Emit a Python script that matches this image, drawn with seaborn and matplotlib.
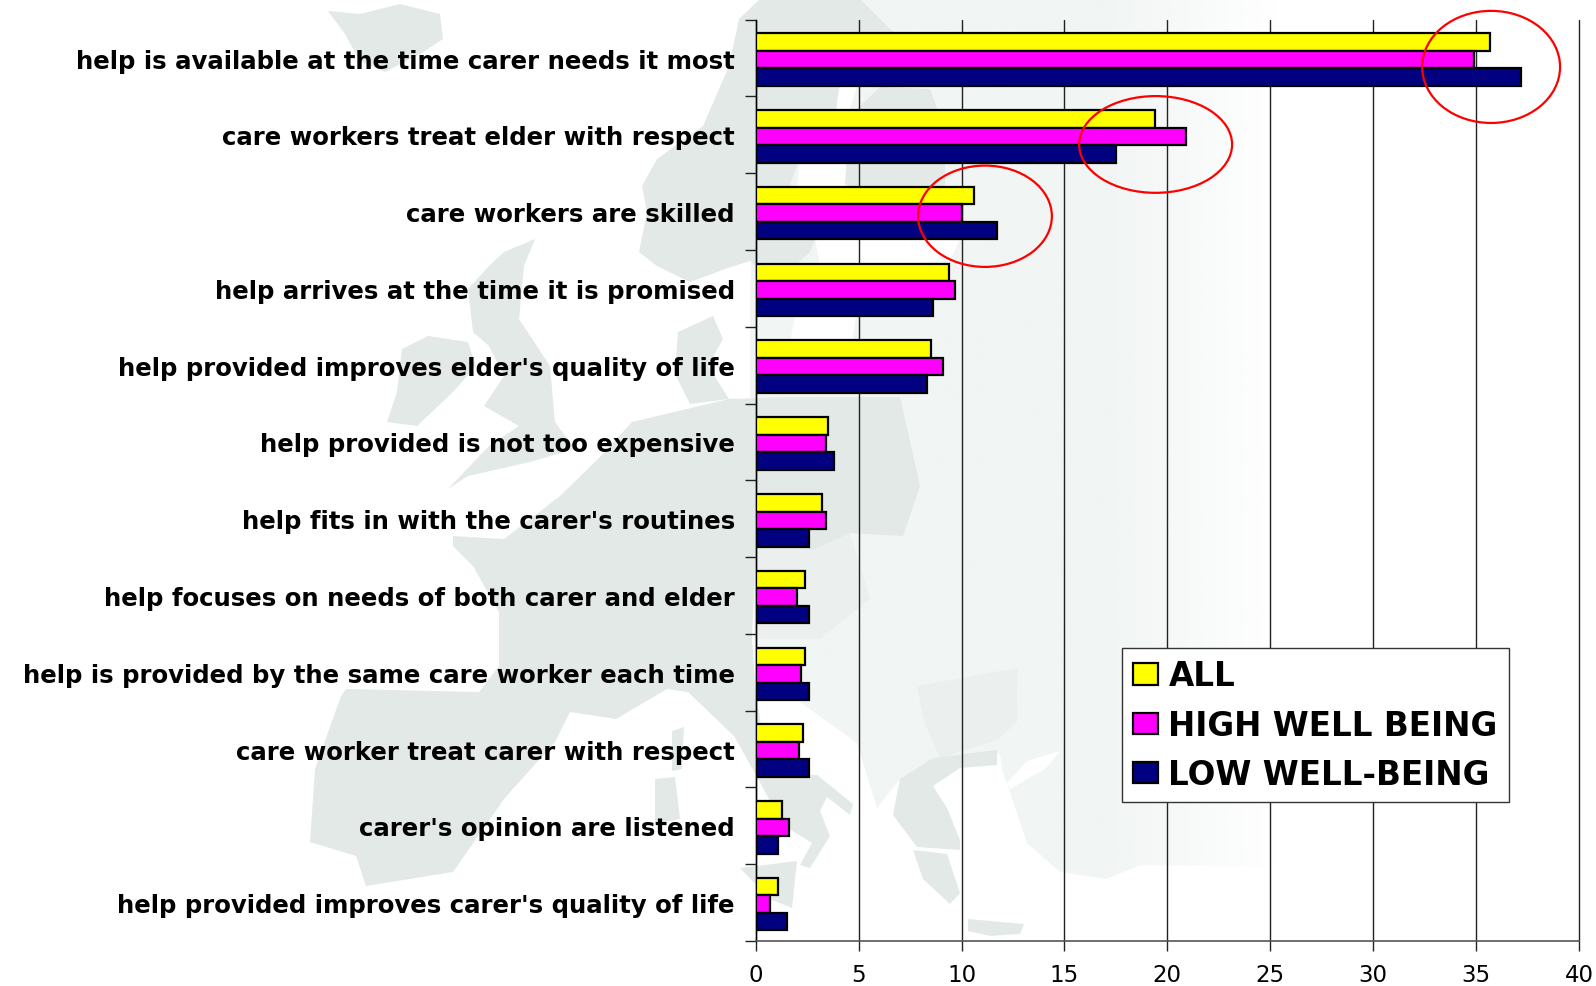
import numpy as np
import pandas as pd
import seaborn as sns
import matplotlib
matplotlib.use("Agg")
import matplotlib.pyplot as plt
from matplotlib.patches import Ellipse, Polygon

categories = [
    "help is available at the time carer needs it most",
    "care workers treat elder with respect",
    "care workers are skilled",
    "help arrives at the time it is promised",
    "help provided improves elder's quality of life",
    "help provided is not too expensive",
    "help fits in with the carer's routines",
    "help focuses on needs of both carer and elder",
    "help is provided by the same care worker each time",
    "care worker treat carer with respect",
    "carer's opinion are listened",
    "help provided improves carer's quality of life",
]
all_values = [35.7, 19.4, 10.6, 9.4, 8.5, 3.5, 3.2, 2.4, 2.4, 2.3, 1.3, 1.1]
high_values = [34.9, 20.9, 10.0, 9.7, 9.1, 3.4, 3.4, 2.0, 2.2, 2.1, 1.6, 0.7]
low_values = [37.2, 17.5, 11.7, 8.6, 8.3, 3.8, 2.6, 2.6, 2.6, 2.6, 1.1, 1.5]
series_names = ["ALL", "HIGH WELL BEING", "LOW WELL-BEING"]
series_colors = ["#FFFF00", "#FF00FF", "#000080"]
x_ticks = [0, 5, 10, 15, 20, 25, 30, 35, 40]

df = pd.DataFrame({
    "category": categories * 3,
    "series": sum([[n] * len(categories) for n in series_names], []),
    "value": all_values + high_values + low_values,
})

sns.set_style("white")
plt.rcParams["font.family"] = ["DejaVu Sans"]

W, H = 1596, 987
fig = plt.figure(figsize=(W / 100, H / 100), dpi=100, facecolor="white")

# --- faint map backdrop (decorative, figure pixel space) ---
bg = fig.add_axes([0, 0, 1, 1], zorder=0)
DARK = "#e3e9e7"
MID = "#ebf0ee"
LIGHT = "#f1f5f4"

light_outline = [(760, 0), (1400, 0), (1400, 870), (1140, 866), (1107, 880), (1060, 873), (1027, 844),
                 (1007, 784), (1003, 775), (1000, 755), (933, 770), (900, 780), (877, 809), (857, 744),
                 (797, 701), (756, 690), (750, 500), (750, 300)]
light_poly = Polygon(light_outline, closed=True, fc="none", ec="none")
bg.add_patch(light_poly)
fade = np.ones((2, 256, 4))
fade[..., :3] = matplotlib.colors.to_rgb(LIGHT)
xs = np.linspace(750, 1400, 256)
fade[..., 3] = np.clip((1280 - xs) / 180, 0, 1)
im = bg.imshow(fade, extent=[750, 1400, H, 0], aspect="auto", zorder=1)
im.set_clip_path(light_poly)
bg.set_xlim(0, W)
bg.set_ylim(H, 0)
bg.axis("off")

# white seas cut into the light land
sea_shapes = [
    [(800, 163), (847, 165), (845, 187), (797, 187)],
    [(837, 87), (857, 87), (850, 110), (837, 110)],
    [(815, 240), (960, 240), (950, 262), (820, 268)],
    [(795, 317), (856, 317), (852, 343), (800, 395), (780, 395)],
    [(1007, 784), (1027, 762), (1060, 752), (1045, 770), (1010, 790)],
]
for shape in sea_shapes:
    bg.add_patch(Polygon(shape, closed=True, fc="white", ec="none", zorder=1.5))

mid_shapes = [
    # Bulgaria
    [(917, 687), (1017, 669), (1017, 723), (997, 741), (940, 759), (925, 725)],
    # Central Europe
    [(756, 540), (813, 551), (850, 534), (870, 600), (820, 640), (756, 640)],
]
for shape in mid_shapes:
    bg.add_patch(Polygon(shape, closed=True, fc=MID, ec="none", zorder=1.8))

dark_shapes = [
    # Iceland
    [(328, 12), (360, 15), (400, 5), (440, 15), (443, 40), (420, 55), (385, 73), (360, 62), (345, 35)],
    # Scandinavia
    [(739, 20), (729, 67), (703, 127), (657, 160), (642, 187), (647, 213), (639, 253), (657, 267), (690, 283),
     (725, 270), (750, 262), (775, 285), (810, 253), (825, 215), (790, 185), (800, 160), (836, 110), (840, 85),
     (875, 70), (900, 85), (925, 70), (900, 40), (860, 0), (760, 0)],
    # Finland strip
    [(857, 110), (880, 88), (930, 90), (945, 130), (945, 190), (880, 200), (845, 185), (848, 140)],
    # Great Britain
    [(504, 253), (535, 240), (524, 267), (519, 320), (550, 367), (555, 423), (575, 450), (530, 463), (468, 477),
     (448, 490), (489, 447), (519, 427), (484, 407), (504, 377), (489, 347), (473, 333), (468, 290), (489, 267)],
    # Ireland
    [(402, 350), (428, 337), (468, 343), (476, 367), (453, 393), (417, 427), (387, 423), (397, 393)],
    # Denmark
    [(678, 333), (713, 317), (723, 340), (708, 367), (729, 400), (690, 405), (675, 375)],
    # Western and central Europe with Italy
    [(729, 400), (790, 398), (900, 398), (920, 487), (903, 537), (850, 534), (813, 551), (756, 540), (752, 640),
     (756, 698), (760, 719), (765, 776), (817, 776), (853, 805), (850, 816), (827, 798), (820, 812), (830, 837),
     (810, 869), (800, 866), (812, 844), (783, 826), (756, 776), (734, 737), (688, 693), (667, 690), (616, 720),
     (570, 713), (555, 743), (504, 800), (453, 873), (366, 887), (356, 857), (310, 843), (315, 770), (341, 697),
     (346, 690), (479, 693), (499, 667), (499, 613), (473, 567), (453, 547), (453, 537), (504, 540), (560, 497),
     (601, 457), (632, 423)],
    # Corsica
    [(672, 732), (684, 728), (682, 770), (672, 772)],
    # Sardinia
    [(655, 780), (675, 778), (680, 820), (655, 825)],
    # Sicily
    [(740, 869), (797, 862), (792, 909), (770, 900)],
    # Crete
    [(968, 920), (1024, 925), (1020, 935), (990, 937), (968, 932)],
    # Greece
    [(900, 780), (933, 759), (997, 751), (997, 766), (960, 769), (933, 787), (947, 809), (960, 841), (960, 851),
     (917, 848), (893, 816)],
    # Peloponnese
    [(913, 851), (947, 855), (960, 894), (950, 905), (923, 880)],
]
for shape in dark_shapes:
    bg.add_patch(Polygon(shape, closed=True, fc=DARK, ec="none", zorder=2))

# --- chart ---
ax = fig.add_axes([755.7 / W, 1 - 942 / H, (1579 - 755.7) / W, (942 - 20.7) / H], zorder=1)
ax.patch.set_visible(False)
sns.barplot(data=df, y="category", x="value", hue="series", order=categories, hue_order=series_names,
            palette=series_colors, orient="h", width=0.685, gap=0, dodge=True, saturation=1,
            edgecolor="black", linewidth=1.6, ax=ax, zorder=3, legend=True)
for bar in ax.patches:
    bar.set_y(bar.get_y() + 0.02)

ax.set_xlim(0, 40)
ax.set_ylim(len(categories) - 0.5, -0.5)
ax.set_xlabel("")
ax.set_ylabel("")
ax.set_xticks(x_ticks)
ax.set_xticklabels([str(t) for t in x_ticks], fontsize=16.5, color="black")
ax.tick_params(axis="x", which="major", direction="out", length=7, width=1, color="#222222", pad=9, bottom=True)
ax.xaxis.grid(True, color="#222222", lw=1, zorder=1, clip_on=False)
ax.yaxis.grid(False)
ax.set_axisbelow(True)
for gl in ax.get_xgridlines():
    gl.set_clip_on(False)

ax.set_yticks(range(len(categories)))
ax.set_yticklabels(categories, fontsize=17.6, fontweight="bold", color="black")
ax.set_yticks(np.arange(-0.5, len(categories)), minor=True)
ax.tick_params(axis="y", which="major", length=0, pad=15, left=False)
ax.tick_params(axis="y", which="minor", direction="out", length=8, width=1, color="#222222", left=True)

for side in ("top", "right"):
    ax.spines[side].set_visible(False)
ax.spines["left"].set_color("black")
ax.spines["left"].set_linewidth(1)
ax.spines["bottom"].set_color("#555555")
ax.spines["bottom"].set_linewidth(1.2)

# red highlight ellipses
ellipse_specs = [(35.73, 0.115, 6.7, 1.46), (19.43, 1.125, 7.43, 1.26), (11.14, 2.06, 6.5, 1.32)]
for cx, cy, w, h in ellipse_specs:
    ax.add_patch(Ellipse((cx, cy), w, h, fc="none", ec="#FF0000", lw=1.6, zorder=6, clip_on=False))

# legend
handles, labels = ax.get_legend_handles_labels()
ax.legend(handles, labels, loc="upper left", bbox_to_anchor=(1122 / W, 1 - 649 / H),
          bbox_transform=fig.transFigure, frameon=True, fancybox=False, framealpha=1,
          facecolor="white", edgecolor="#333333", labelcolor="black",
          prop={"family": "DejaVu Sans", "weight": "bold", "size": 23.5},
          handlelength=0.74, handleheight=0.62, handletextpad=0.33, labelspacing=0.5, borderpad=0.35,
          borderaxespad=0, title=None).set_zorder(10)

fig.savefig("out.png", dpi=100, facecolor="white")
